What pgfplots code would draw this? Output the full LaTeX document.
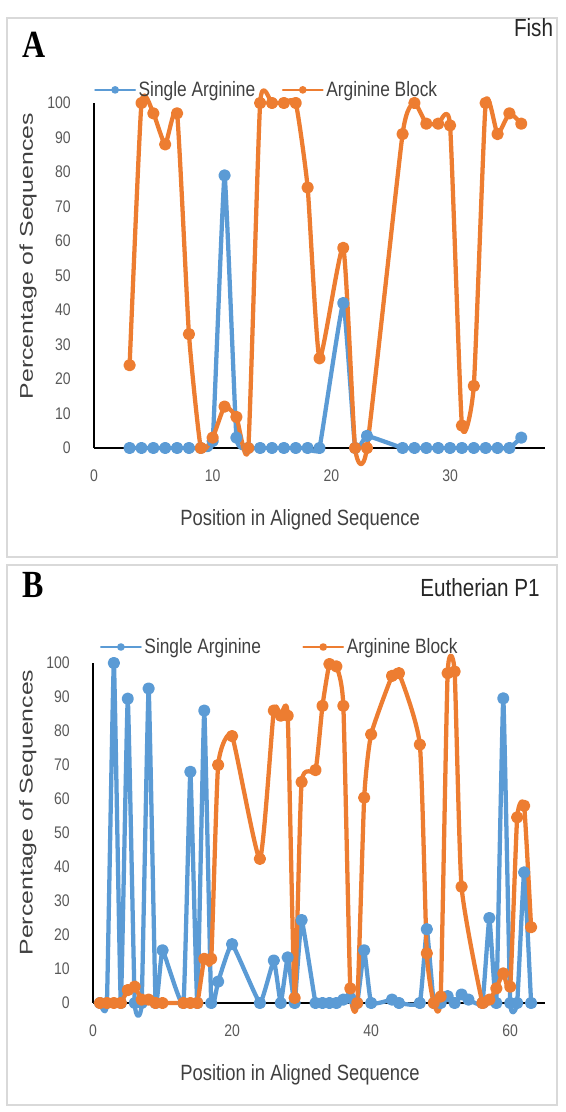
\documentclass[border=0pt]{standalone}
\usepackage{fontspec}
\setmainfont{Liberation Sans}
\newfontfamily\serifbf{Liberation Serif}
\usepackage{graphicx}
\usepackage{pgfplots}
\pgfplotsset{compat=1.18}
\definecolor{exblue}{HTML}{5B9BD5}
\definecolor{exorange}{HTML}{ED7D31}
\definecolor{ticktxt}{HTML}{595959}
\definecolor{labtxt}{HTML}{404040}
\definecolor{framec}{HTML}{D9D9D9}

\newcommand{\vs}[1]{\scalebox{1}[1.2]{#1}}

\pgfplotsset{
  excel/.style={
    scale only axis,
    axis x line*=bottom, axis y line*=left,
    ymin=0, ymax=100, ytick={0,10,...,100},
    major tick length=0pt,
    tick style={draw=none},
    axis line style={-, black, line width=1.3pt},
    tick label style={font=\fontsize{10.5}{12}\selectfont, text=ticktxt},
    /pgf/number format/assume math mode=true,
    yticklabel={\vs{\pgfmathprintnumber{\tick}}},
    xticklabel={\vs{\pgfmathprintnumber{\tick}}},
    yticklabel style={anchor=east, xshift=-14pt},
    xticklabel style={anchor=north, yshift=-13pt},
    legend style={draw=none, fill=none, font=\fontsize{13}{15}\selectfont, text=labtxt,
      legend columns=2, inner sep=0pt, anchor=west},
    legend image code/.code={\draw[mark repeat=2,mark phase=2, line width=1.3pt, mark size=2.2pt]
      plot coordinates {(0pt,0pt) (15pt,0pt) (30pt,0pt)};},
    clip=false,
    xlabel={\vs{Position in Aligned Sequence}},
    ylabel={\scalebox{1.35}[1]{Percentage of Sequences}},
  },
  ser/.style={smooth, line width=3.2pt, line join=round, line cap=round, mark=*, mark size=3pt, color=#1, mark options={solid}},
}

\begin{document}
\begin{tikzpicture}
\path[use as bounding box] (0,0) rectangle (424.5pt,834pt);
\draw[framec, line width=1.5pt] (5.25pt,416.25pt) rectangle (417.75pt,820.5pt);
\draw[framec, line width=1.5pt] (5.25pt,5.25pt) rectangle (417.75pt,410.25pt);
\node[anchor=base west, inner sep=0pt, font=\serifbf\bfseries\fontsize{24}{24}\selectfont] at (16.5pt,790.5pt) {\vs{A}};
\node[anchor=base west, inner sep=0pt, font=\serifbf\bfseries\fontsize{24}{24}\selectfont] at (16.5pt,385.5pt) {\vs{B}};
\node[anchor=base east, inner sep=0pt, font=\fontsize{15.5}{18}\selectfont, text=black!85] at (415pt,806.25pt) {\vs{Fish}};
\node[anchor=base east, inner sep=0pt, font=\fontsize{15.5}{18}\selectfont, text=black!85] at (405pt,386.25pt) {\vs{Eutherian P1}};

\begin{axis}[excel, at={(70.5pt,498pt)}, anchor=south west,
  width=338.25pt, height=258.75pt,
  xmin=0, xmax=38, xtick={0,10,20,30},
  every axis x label/.style={at={(axis description cs:0.457,-0.209)}, anchor=center, font=\fontsize{13.8}{16}\selectfont, text=labtxt},
  every axis y label/.style={at={(axis description cs:-0.146,0.556)}, rotate=90, anchor=center, font=\fontsize{13.8}{16}\selectfont, text=labtxt},
  legend style={at={(axis description cs:0,1.038)}, /tikz/every even column/.append style={column sep=18pt}},
]
\addplot[ser=exblue, tension=0.2] table {
x y
3 0
4 0
5 0
6 0
7 0
8 0
9 0
10 2
11 79
12 3
13 0
14 0
15 0
16 0
17 0
18 0
19 0
21 42
22 0
23 3.5
26 0
27 0
28 0
29 0
30 0
31 0
32 0
33 0
34 0
35 0
36 3
};
\addlegendentry{\vs{Single Arginine}}
\addplot[ser=exorange, tension=0.3] table {
x y
3 24
4 100
5 97
6 88
7 97
8 33
9 0
10 3
11 12
12 9
13 0
14 100
15 100
16 100
17 100
18 75.5
19 26
21 58
22 0
23 0
26 91
27 100
28 94
29 94
30 93.5
31 6.5
32 18
33 100
34 91
35 97
36 94
};
\addlegendentry{\vs{Arginine Block}}
\end{axis}

\begin{axis}[excel, at={(69.75pt,81.75pt)}, anchor=south west,
  width=339pt, height=255pt,
  xmin=0, xmax=65, xtick={0,20,40,60},
  every axis x label/.style={at={(axis description cs:0.458,-0.212)}, anchor=center, font=\fontsize{13.8}{16}\selectfont, text=labtxt},
  every axis y label/.style={at={(axis description cs:-0.144,0.56)}, rotate=90, anchor=center, font=\fontsize{13.8}{16}\selectfont, text=labtxt},
  legend style={at={(axis description cs:0.015,1.047)}, /tikz/every even column/.append style={column sep=29pt}},
]
\addplot[ser=exblue, tension=0.2] table {
x y
1 0
2 0
3 100
4 0
5 89.5
6 0
7 0
8 92.5
9 0
10 15.5
13 0
14 68
15 0
16 86
17 0
18 6.3
20 17.3
24 0
26 12.5
27 0
28 13.4
29 0
30 24.4
32 0
33 0
34 0
35 0
36 1
37 1.5
38 0
39 15.5
40 0
43 1
44 0
47 0
48 21.7
49 0
50 0
51 2
52 0
53 2.5
54 1
56 0
57 25
58 0
59 89.6
60 0
61 0
62 38.4
63 0
};
\addlegendentry{\vs{Single Arginine}}
\addplot[ser=exorange, tension=0.3] table {
x y
1 0
2 0
3 0
4 0
5 3.8
6 4.8
7 1
8 1
9 0
10 0
13 0
14 0
15 0
16 13
17 13
18 70
20 78.5
24 42.4
26 86
27 84.5
28 84.5
29 1.5
30 65
32 68.5
33 87.4
34 99.7
35 99
36 87.4
37 4.3
38 0
39 60.4
40 79
43 96.2
44 97
47 76
48 14.6
49 0
50 1.9
51 97
52 97.5
53 34.2
56 0
57 1
58 4.3
59 8.7
60 4.8
61 54.6
62 58
63 22.3
};
\addlegendentry{\vs{Arginine Block}}
\end{axis}
\end{tikzpicture}
\end{document}
